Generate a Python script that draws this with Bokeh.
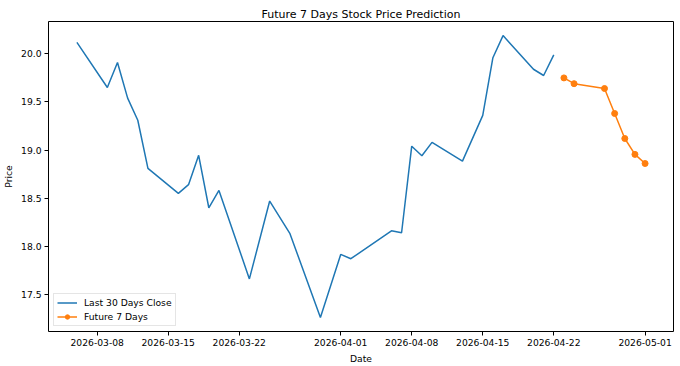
import pandas as pd
from bokeh.plotting import figure
from bokeh.models import Range1d, FixedTicker, DatetimeTickFormatter, NumeralTickFormatter
from bokeh.embed import file_html
from bokeh.resources import INLINE

# ---- data ----
hist_dates = ["2026-03-06", "2026-03-09", "2026-03-10", "2026-03-11", "2026-03-12", "2026-03-13",
              "2026-03-16", "2026-03-17", "2026-03-18", "2026-03-19", "2026-03-20", "2026-03-23",
              "2026-03-25", "2026-03-27", "2026-03-30", "2026-04-01", "2026-04-02", "2026-04-06",
              "2026-04-07", "2026-04-08", "2026-04-09", "2026-04-10", "2026-04-13", "2026-04-15",
              "2026-04-16", "2026-04-17", "2026-04-20", "2026-04-21", "2026-04-22"]
hist_close = [20.12, 19.65, 19.91, 19.54, 19.31, 18.81,
              18.55, 18.64, 18.945, 18.40, 18.58, 17.66,
              18.47, 18.13, 17.26, 17.915, 17.87, 18.16,
              18.14, 19.04, 18.94, 19.08, 18.885, 19.36,
              19.96, 20.19, 19.84, 19.775, 19.99]

future_dates = ["2026-04-23", "2026-04-24", "2026-04-27", "2026-04-28", "2026-04-29", "2026-04-30", "2026-05-01"]
future_pred = [19.75, 19.69, 19.64, 19.38, 19.12, 18.955, 18.86]

x_tick_labels = ["2026-03-08", "2026-03-15", "2026-03-22", "2026-04-01",
                 "2026-04-08", "2026-04-15", "2026-04-22", "2026-05-01"]
y_ticks = [17.5, 18.0, 18.5, 19.0, 19.5, 20.0]

title_text = "Future 7 Days Stock Price Prediction"
x_label = "Date"
y_label = "Price"
hist_label = "Last 30 Days Close"
future_label = "Future 7 Days"

# ---- styling ----
FONT = "DejaVu Sans"
BLUE = "#1f77b4"
ORANGE = "#ff7f0e"

hx = pd.to_datetime(hist_dates)
fx = pd.to_datetime(future_dates)

all_x = list(hx) + list(fx)
xmin, xmax = min(all_x), max(all_x)
xpad = (xmax - xmin) * 0.05
all_y = hist_close + future_pred
ymin, ymax = min(all_y), max(all_y)
ypad = (ymax - ymin) * 0.05

p = figure(width=680, height=366, x_axis_type="datetime",
           output_backend="svg", toolbar_location=None,
           min_border_left=47, min_border_right=7, min_border_top=21, min_border_bottom=34,
           x_range=Range1d(xmin - xpad, xmax + xpad),
           y_range=Range1d(ymin - ypad, ymax + ypad))

p.background_fill_color = "white"
p.border_fill_color = "white"
p.outline_line_color = "black"
p.outline_line_width = 1
p.grid.visible = False

p.title.text = title_text
p.title.align = "center"
p.title.text_font = FONT
p.title.text_font_size = "11px"
p.title.text_font_style = "normal"
p.title.text_color = "black"
p.title.standoff = 2

p.line(hx, hist_close, color=BLUE, line_width=1.5, legend_label=hist_label)
p.line(fx, future_pred, color=ORANGE, line_width=1.5, legend_label=future_label)
p.scatter(fx, future_pred, color=ORANGE, size=6, legend_label=future_label)

tick_ms = [pd.Timestamp(d).value // 10**6 for d in x_tick_labels]
p.xaxis.ticker = FixedTicker(ticks=tick_ms)
fmt = "%Y-%m-%d"
p.xaxis.formatter = DatetimeTickFormatter(milliseconds=fmt, seconds=fmt, minsec=fmt, minutes=fmt,
                                          hourmin=fmt, hours=fmt, days=fmt, months=fmt, years=fmt)
p.yaxis.ticker = FixedTicker(ticks=y_ticks)
p.yaxis.formatter = NumeralTickFormatter(format="0.0")

p.xaxis.axis_label = x_label
p.yaxis.axis_label = y_label

for ax in (p.xaxis, p.yaxis):
    ax.axis_line_color = None
    ax.major_tick_line_color = "black"
    ax.major_tick_out = 4
    ax.major_tick_in = 0
    ax.minor_tick_line_color = None
    ax.major_label_text_font = FONT
    ax.major_label_text_font_size = "9.2px"
    ax.major_label_text_color = "black"
    ax.axis_label_text_font = FONT
    ax.axis_label_text_font_size = "9.2px"
    ax.axis_label_text_font_style = "normal"
    ax.axis_label_text_color = "black"
    ax.major_label_standoff = 3
    ax.axis_label_standoff = 4

leg = p.legend[0]
leg.location = "bottom_left"
leg.margin = 5
leg.padding = 3
leg.spacing = 3
leg.glyph_width = 20
leg.glyph_height = 11
leg.label_height = 11
leg.label_standoff = 7
leg.label_text_font = FONT
leg.label_text_font_size = "9.2px"
leg.label_text_color = "black"
leg.border_line_color = "#cccccc"
leg.border_line_width = 1
leg.background_fill_color = "white"
leg.background_fill_alpha = 0.8

open("out.html", "w").write(file_html(p, INLINE))
